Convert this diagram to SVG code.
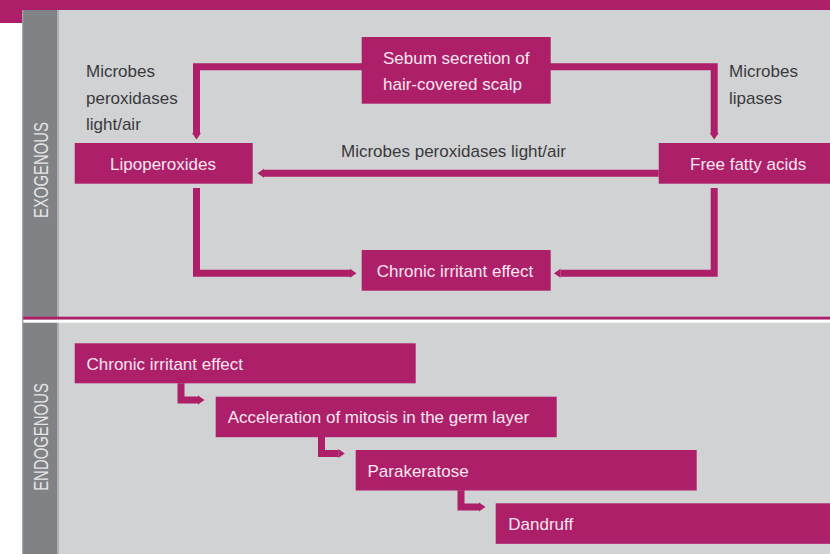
<svg xmlns="http://www.w3.org/2000/svg" width="830" height="554" viewBox="0 0 830 554">
<style>
.box{fill:#ad1f69}
.bt{font-family:"Liberation Sans",Arial,sans-serif;font-size:17px;fill:#f7e6ef}
.lt{font-family:"Liberation Sans",Arial,sans-serif;font-size:17px;fill:#3a3a3c}
.side{font-family:"Liberation Sans",Arial,sans-serif;font-size:21px;fill:#e4e5e7}
.con{fill:none;stroke:#ad1f69;stroke-width:7;stroke-linejoin:miter}
</style>
<defs>
<marker id="tip" markerUnits="userSpaceOnUse" markerWidth="7" markerHeight="10" viewBox="0 0 7 10" refX="0" refY="5" orient="auto-start-reverse">
<path d="M0,0.5 L6.5,5 L0,9.5 Z" fill="#ad1f69"/>
</marker>
</defs>
<!-- background -->
<rect x="0" y="0" width="830" height="554" fill="#ffffff"/>
<rect x="0" y="0" width="830" height="10" fill="#ad1f69"/>
<rect x="0" y="0" width="22.3" height="23" fill="#ad1f69"/>
<rect x="22.3" y="10" width="807.7" height="544" fill="#d1d2d4"/>
<rect x="22.3" y="10" width="35" height="544" fill="#808285"/>
<rect x="22.3" y="10" width="1" height="544" fill="#a3a4a7"/>
<rect x="57.3" y="10" width="1.6" height="544" fill="#a9abae"/>
<rect x="23.3" y="316.7" width="806.7" height="3" fill="#ad1f69"/>
<rect x="23.3" y="319.7" width="806.7" height="3" fill="#ffffff"/>
<text class="side" transform="translate(47.5,170) rotate(-90) scale(0.71,1)" text-anchor="middle">EXOGENOUS</text>
<text class="side" transform="translate(47.5,437) rotate(-90) scale(0.71,1)" text-anchor="middle">ENDOGENOUS</text>
<!-- connectors -->
<g id="connectors">
<path class="con" d="M196.5,133 V66.7 H714.2 V133" marker-start="url(#tip)" marker-end="url(#tip)"/>
<path class="con" d="M658.7,173.3 H264" marker-end="url(#tip)"/>
<path class="con" d="M196.5,188 V273.3 H350" marker-end="url(#tip)"/>
<path class="con" d="M714.2,188 V273.3 H560.5" marker-end="url(#tip)"/>
<path class="con" d="M181,383.3 V400 H198" marker-end="url(#tip)"/>
<path class="con" d="M321.5,437 V453.5 H338.3" marker-end="url(#tip)"/>
<path class="con" d="M461,490.3 V507 H479" marker-end="url(#tip)"/>
</g>
<!-- labels -->
<g id="label-left">
<text class="lt" x="86" y="77">Microbes</text>
<text class="lt" x="86" y="103.5">peroxidases</text>
<text class="lt" x="86" y="130">light/air</text>
</g>
<g id="label-right">
<text class="lt" x="729" y="77">Microbes</text>
<text class="lt" x="729" y="103.5">lipases</text>
</g>
<g id="label-middle">
<text class="lt" x="341" y="157">Microbes peroxidases light/air</text>
</g>
<!-- exogenous nodes -->
<g id="sebum">
<rect class="box" x="361.7" y="37" width="189" height="66.7"/>
<text class="bt" x="383" y="64">Sebum secretion of</text>
<text class="bt" x="383" y="90">hair-covered scalp</text>
</g>
<g id="lipoperoxides">
<rect class="box" x="74.7" y="143" width="178" height="40.7"/>
<text class="bt" x="163" y="170" text-anchor="middle">Lipoperoxides</text>
</g>
<g id="free-fatty-acids">
<rect class="box" x="658.7" y="143" width="171.3" height="40.7"/>
<text class="bt" x="690" y="170">Free fatty acids</text>
</g>
<g id="chronic-exo">
<rect class="box" x="361.7" y="250" width="189" height="40.7"/>
<text class="bt" x="376.7" y="276.7">Chronic irritant effect</text>
</g>
<!-- endogenous nodes -->
<g id="chronic-endo">
<rect class="box" x="74.7" y="343.3" width="341" height="40"/>
<text class="bt" x="86.5" y="370">Chronic irritant effect</text>
</g>
<g id="acceleration">
<rect class="box" x="215.7" y="396.7" width="341" height="40.5"/>
<text class="bt" x="227.7" y="423.4">Acceleration of mitosis in the germ layer</text>
</g>
<g id="parakeratose">
<rect class="box" x="355.7" y="450" width="341" height="40.5"/>
<text class="bt" x="367.5" y="476.7">Parakeratose</text>
</g>
<g id="dandruff">
<rect class="box" x="495.7" y="503.3" width="334.3" height="40.5"/>
<text class="bt" x="508.3" y="530">Dandruff</text>
</g>
</svg>
